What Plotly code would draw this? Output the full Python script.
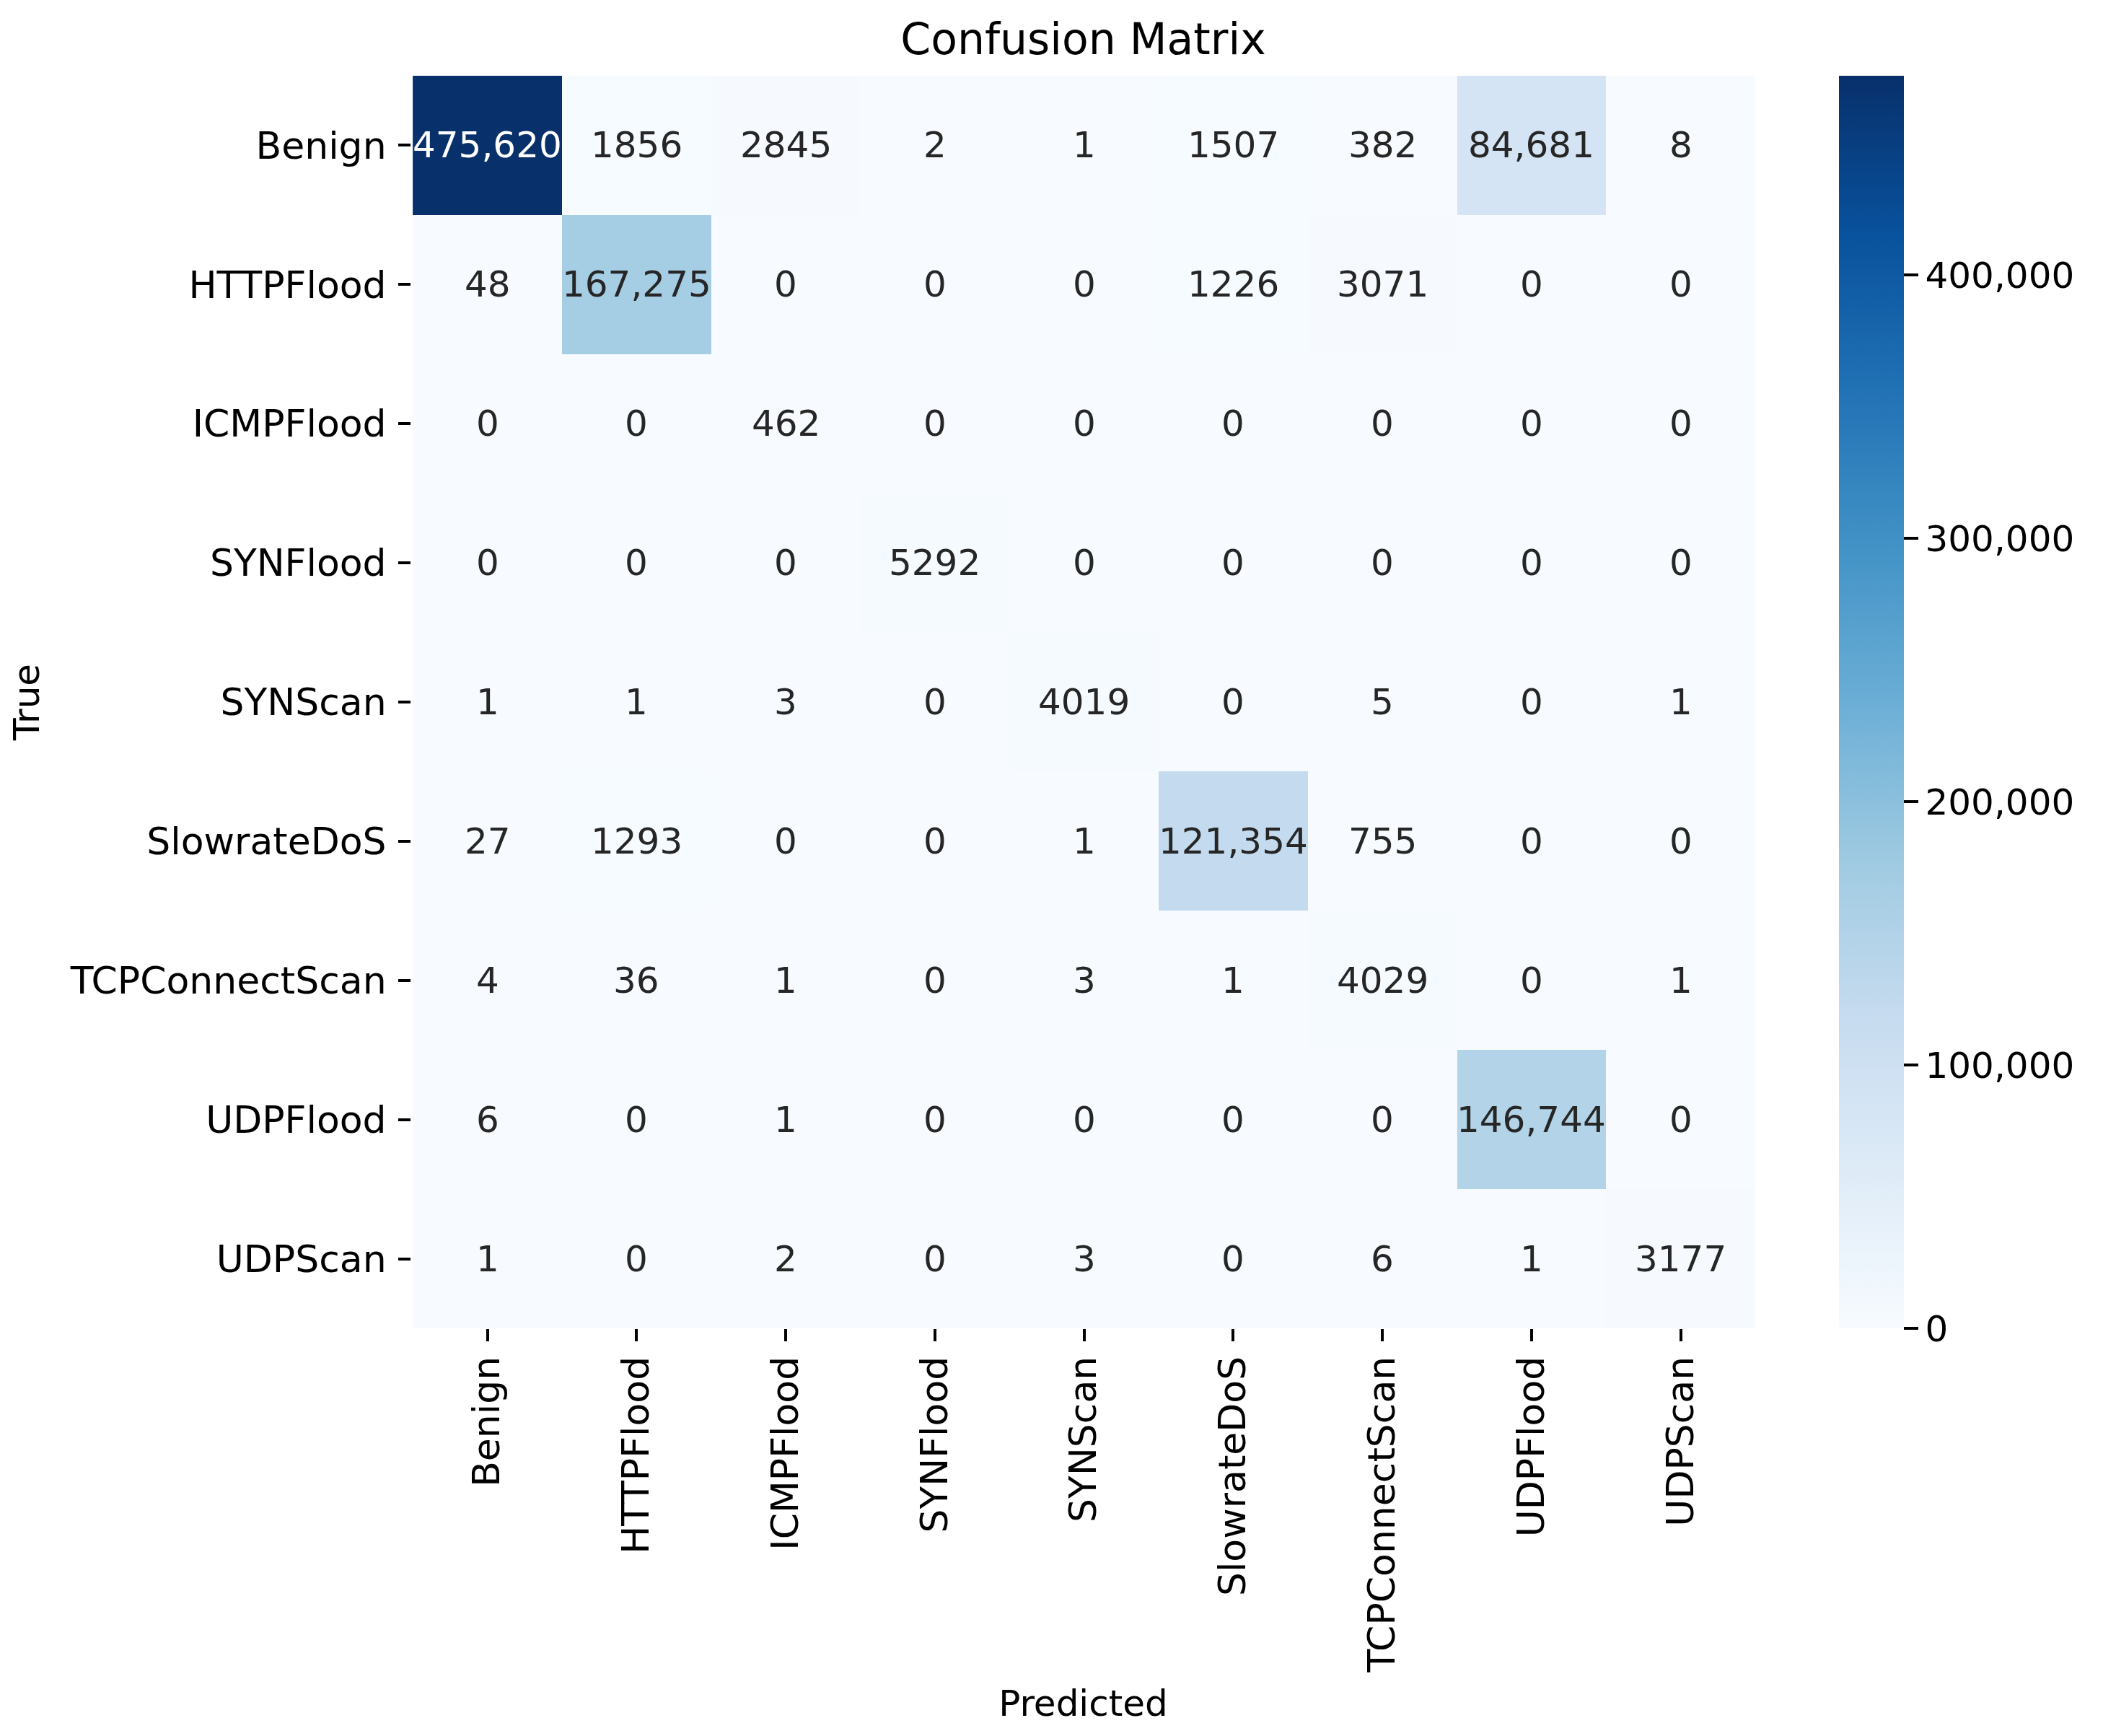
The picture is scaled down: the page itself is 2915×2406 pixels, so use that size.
import numpy as np
import plotly.graph_objects as go

# classes (true = rows, predicted = cols)
classes = ['Benign', 'HTTPFlood', 'ICMPFlood', 'SYNFlood', 'SYNScan',
           'SlowrateDoS', 'TCPConnectScan', 'UDPFlood', 'UDPScan']

row_benign = [475620, 1856, 2845, 2, 1, 1507, 382, 84681, 8]
row_httpflood = [48, 167275, 0, 0, 0, 1226, 3071, 0, 0]
row_icmpflood = [0, 0, 462, 0, 0, 0, 0, 0, 0]
row_synflood = [0, 0, 0, 5292, 0, 0, 0, 0, 0]
row_synscan = [1, 1, 3, 0, 4019, 0, 5, 0, 1]
row_slowratedos = [27, 1293, 0, 0, 1, 121354, 755, 0, 0]
row_tcpconnectscan = [4, 36, 1, 0, 3, 1, 4029, 0, 1]
row_udpflood = [6, 0, 1, 0, 0, 0, 0, 146744, 0]
row_udpscan = [1, 0, 2, 0, 3, 0, 6, 1, 3177]

cbar_ticks = [0, 100000, 200000, 300000, 400000]

# matplotlib Blues
blues = ['rgb(247,251,255)', 'rgb(222,235,247)', 'rgb(198,219,239)', 'rgb(158,202,225)',
         'rgb(107,174,214)', 'rgb(66,146,198)', 'rgb(33,113,181)', 'rgb(8,81,156)', 'rgb(8,48,107)']
escala = [[i / (len(blues) - 1), c] for i, c in enumerate(blues)]

cm = np.array([row_benign, row_httpflood, row_icmpflood, row_synflood, row_synscan,
               row_slowratedos, row_tcpconnectscan, row_udpflood, row_udpscan])
vmax = cm.max()

FONTE = 'DejaVu Sans'
# page has 8px body margin, so the figure is 8px smaller than the window
W, H = 2907, 2398
ml, mr, mt, mb = 562, 482, 97, 565
cb_x = (2541 - ml) / (W - ml - mr)

fig = go.Figure()
fig.add_trace(go.Heatmap(z=cm, x=classes, y=classes, colorscale=escala, zmin=0, zmax=vmax,
                         xgap=0, ygap=0,
                         colorbar=dict(x=cb_x, xanchor='left', xpad=0, ypad=0,
                                       thickness=90, len=1, y=0.5, yanchor='middle', outlinewidth=0,
                                       tickvals=cbar_ticks, tickformat=',d', ticks='outside',
                                       ticklen=20, tickwidth=4, tickcolor='black',
                                       tickfont=dict(family=FONTE, size=50, color='black'))))

# anotacoes nas celulas
for i, t in enumerate(classes):
    for j, p in enumerate(classes):
        v = int(cm[i, j])
        txt = f'{v:,}' if v >= 10000 else str(v)
        cor = 'white' if v / vmax > 0.6 else 'rgb(38,38,38)'
        fig.add_annotation(x=p, y=t, text=txt, showarrow=False,
                           font=dict(family=FONTE, size=50, color=cor))

fig.update_xaxes(tickangle=-90, ticks='outside', ticklen=17, tickwidth=4, tickcolor='black',
                 ticklabelstandoff=0, showgrid=False, showline=False, zeroline=False,
                 tickfont=dict(family=FONTE, size=52, color='black'), automargin=False,
                 title=dict(text='Predicted', standoff=25, font=dict(family=FONTE, size=50, color='black')))
fig.update_yaxes(autorange='reversed', ticks='outside', ticklen=17, tickwidth=4, tickcolor='black',
                 ticklabelstandoff=6, showgrid=False, showline=False, zeroline=False,
                 tickfont=dict(family=FONTE, size=52, color='black'), automargin=False,
                 title=dict(text='True', standoff=26, font=dict(family=FONTE, size=50, color='black')))
fig.update_layout(width=W, height=H, margin=dict(l=ml, r=mr, t=mt, b=mb),
                  plot_bgcolor='white', paper_bgcolor='white',
                  title=dict(text='Confusion Matrix', x=0.5, xref='paper', xanchor='center',
                             y=1, yref='paper', yanchor='bottom', pad=dict(b=30),
                             font=dict(family=FONTE, size=60, color='black')))
fig.write_html("out.html")
